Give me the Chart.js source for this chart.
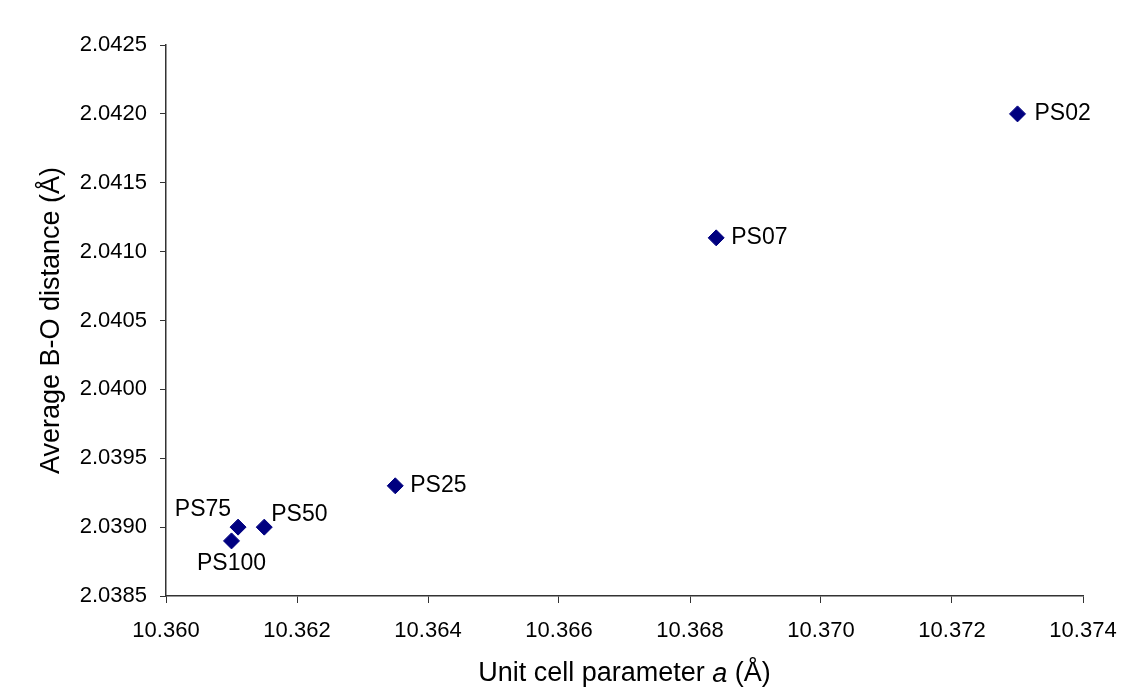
<!DOCTYPE html>
<html>
<head>
<meta charset="utf-8">
<script src="https://cdn.jsdelivr.net/npm/chart.js@4"></script>
<style>
  body { margin: 0; background: #fff; }
  #wrap { width: 1124px; height: 689px; }
</style>
</head>
<body>
<div id="wrap"><canvas id="chart" width="1124" height="689"></canvas></div>
<script>
const sampleNames = ['PS02', 'PS07', 'PS25', 'PS50', 'PS75', 'PS100'];
const cellParam = [10.3730, 10.3684, 10.3635, 10.3615, 10.3611, 10.3610];
const boDistance = [2.0420, 2.0411, 2.0393, 2.0390, 2.0390, 2.0389];

const xTicks = [10.360, 10.362, 10.364, 10.366, 10.368, 10.370, 10.372, 10.374];
const yTicks = [2.0385, 2.0390, 2.0395, 2.0400, 2.0405, 2.0410, 2.0415, 2.0420, 2.0425];

const points = cellParam.map((x, i) => ({ x, y: boDistance[i] }));

// where each label sits relative to its point
const labelPlace = {
  PS02: { dx: 17, dy: 0, align: 'left' },
  PS07: { dx: 15, dy: 0, align: 'left' },
  PS25: { dx: 15, dy: 0, align: 'left' },
  PS50: { dx: 7, dy: -12, align: 'left' },
  PS75: { dx: -7, dy: -17, align: 'right' },
  PS100: { dx: 0, dy: 23, align: 'center' }
};

const pointLabels = {
  id: 'pointLabels',
  afterDatasetsDraw(chart) {
    const ctx = chart.ctx;
    const meta = chart.getDatasetMeta(0);
    ctx.save();
    ctx.font = '23px "Liberation Sans", Arial, sans-serif';
    ctx.fillStyle = '#000';
    ctx.textBaseline = 'middle';
    meta.data.forEach((el, i) => {
      const name = sampleNames[i];
      const p = labelPlace[name];
      ctx.textAlign = p.align;
      ctx.fillText(name, el.x + p.dx, el.y + p.dy);
    });
    ctx.restore();
  }
};

// x axis title with italic "a"
const xTitle = {
  id: 'xTitle',
  afterDraw(chart) {
    const ctx = chart.ctx;
    const area = chart.chartArea;
    const normal = '27px "Liberation Sans", Arial, sans-serif';
    const italic = 'italic 27px "Liberation Sans", Arial, sans-serif';
    const parts = [
      { t: 'Unit cell parameter ', f: normal },
      { t: 'a', f: italic },
      { t: ' (Å)', f: normal }
    ];
    ctx.save();
    let total = 0;
    parts.forEach(p => { ctx.font = p.f; p.w = ctx.measureText(p.t).width; total += p.w; });
    let x = (area.left + area.right) / 2 - total / 2;
    const y = 674;
    ctx.fillStyle = '#000';
    ctx.textBaseline = 'middle';
    ctx.textAlign = 'left';
    parts.forEach(p => { ctx.font = p.f; ctx.fillText(p.t, x, y); x += p.w; });
    ctx.restore();
  }
};

const tickFont = { family: '"Liberation Sans", Arial, sans-serif', size: 22 };

new Chart(document.getElementById('chart').getContext('2d'), {
  type: 'scatter',
  data: {
    datasets: [{
      data: points,
      pointStyle: 'rectRot',
      pointRadius: 8,
      pointHoverRadius: 8,
      backgroundColor: '#000080',
      borderColor: '#000080',
      borderWidth: 1
    }]
  },
  options: {
    responsive: false,
    animation: false,
    layout: { padding: { left: 0, right: 41, top: 45, bottom: 0 } },
    plugins: { legend: { display: false }, tooltip: { enabled: false } },
    scales: {
      x: {
        type: 'linear',
        min: 10.360,
        max: 10.374,
        afterBuildTicks: axis => { axis.ticks = xTicks.map(v => ({ value: v })); },
        afterFit: axis => { axis.height = 93; axis.paddingLeft = 0; axis.paddingRight = 0; },
        ticks: {
          font: tickFont,
          color: '#000',
          padding: 15,
          maxRotation: 0,
          callback: v => v.toFixed(3)
        },
        grid: { drawOnChartArea: false, drawTicks: true, tickLength: 7, color: '#333' },
        border: { color: '#333', width: 1.5 }
      },
      y: {
        type: 'linear',
        min: 2.0385,
        max: 2.0425,
        afterBuildTicks: axis => { axis.ticks = yTicks.map(v => ({ value: v })); },
        afterFit: axis => { axis.width = 166; axis.paddingTop = 0; axis.paddingBottom = 0; },
        ticks: {
          font: tickFont,
          color: '#000',
          padding: 13,
          callback: v => v.toFixed(4)
        },
        grid: { drawOnChartArea: false, drawTicks: true, tickLength: 6, color: '#333' },
        border: { color: '#333', width: 1.5 },
        title: {
          display: true,
          text: 'Average B-O distance (Å)',
          color: '#000',
          font: { family: '"Liberation Sans", Arial, sans-serif', size: 27 },
          padding: { top: 35, bottom: 0 }
        }
      }
    }
  },
  plugins: [pointLabels, xTitle]
});
</script>
</body>
</html>
